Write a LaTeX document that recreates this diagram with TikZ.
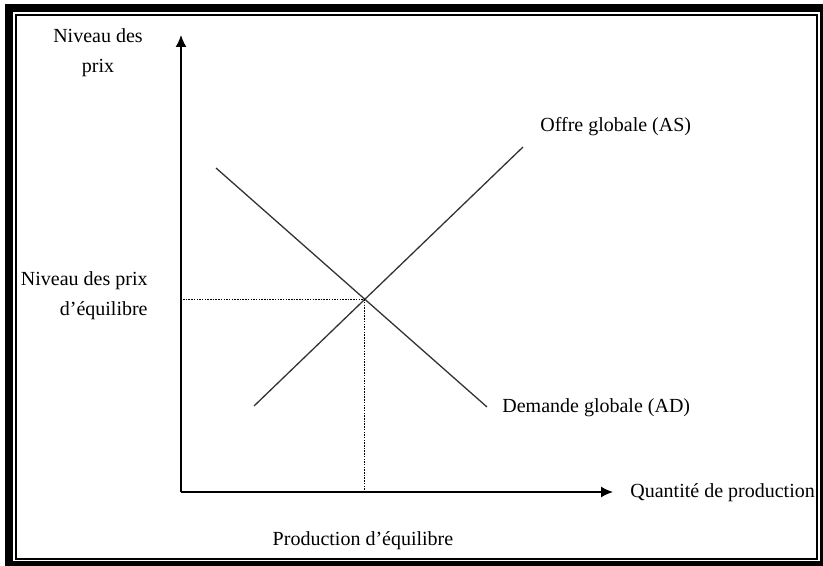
\documentclass[tikz,border=0pt]{standalone}
\usepackage{fontspec}
\setmainfont{Liberation Serif}
\usetikzlibrary{arrows.meta}

\begin{document}
\begin{tikzpicture}[
      x=0.5pt, y=-0.5pt,
      axis/.style={line width=0.75pt, -{Latex[length=6pt,width=5.5pt]}},
      curve/.style={line width=0.65pt, black!80},
      guide/.style={line width=0.5pt, dash pattern=on 0.75pt off 0.6pt},
      lbl/.style={font=\fontsize{10}{15}\selectfont, inner sep=0pt}
    ]
    \useasboundingbox (0,0) rectangle (823,566);

    % Frame (thick outer, thin inner)
    \draw[line width=4pt] (9,8) rectangle (824,565);
    \draw[line width=0.75pt] (16,15) rectangle (817,559);

    % Axes
    \coordinate (origin) at (181,492);
    \coordinate (ytop) at (181,35);
    \coordinate (xend) at (613,492);
    \draw[axis] (origin) -- (ytop);
    \draw[axis] (origin) -- (xend);

    % Supply and demand
    \coordinate (as1) at (254,406);
    \coordinate (as2) at (523,147);
    \coordinate (ad1) at (216,168);
    \coordinate (ad2) at (487,407);
    \draw[curve] (as1) -- (as2);
    \draw[curve] (ad1) -- (ad2);

    % Equilibrium
    \coordinate (eq) at (intersection of as1--as2 and ad1--ad2);
    \coordinate (eqy) at (183,0 |- eq);
    \coordinate (eqx) at (eq |- 490,490);
    \draw[guide] (eqy) -- (eq);
    \draw[guide] (eq) -- (eqx);

    % Labels
    \node[lbl, align=center] (ylab) at (98,53) {Niveau des\\prix};
    \node[lbl, align=right, anchor=east] (plab) at (148,296) {Niveau des prix\\d’équilibre};
    \node[lbl, anchor=west] (aslab) at (540,127) {Offre globale (AS)};
    \node[lbl, anchor=west] (adlab) at (502,408) {Demande globale (AD)};
    \node[lbl, anchor=west] (xlab) at (630,493) {Quantité de production};
    \node[lbl] (qlab) at (363,541) {Production d’équilibre};
  \end{tikzpicture}
\end{document}
